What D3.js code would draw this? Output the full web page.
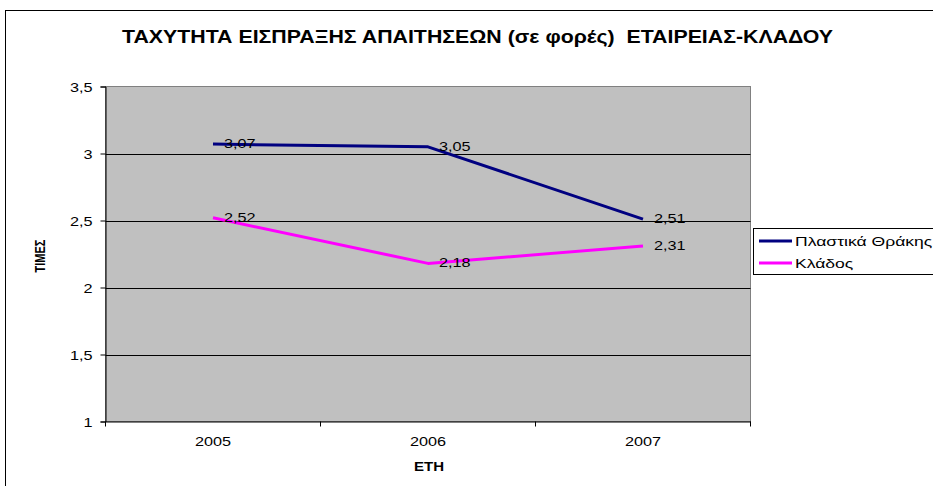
<!DOCTYPE html>
<html><head><meta charset="utf-8">
<script src="https://cdn.jsdelivr.net/npm/d3@7/dist/d3.min.js"></script>
<style>body{margin:0;background:#fff;}svg{display:block;font-family:Arial,"Liberation Sans",sans-serif;}</style>
</head><body>
<script>
const years = ["2005","2006","2007"];
const seriesNames = ["Πλαστικά Θράκης","Κλάδος"];
const thraki = [3.07, 3.05, 2.51];
const klados = [2.52, 2.18, 2.31];
const yTicks = [1, 1.5, 2, 2.5, 3, 3.5];
const colors = ["#000080", "#FF00FF"];

const W = 933, H = 486;
const SX = 1.3; // horizontal stretch seen in the reference text
const svg = d3.select("body").append("svg").attr("width", W).attr("height", H);
svg.append("rect").attr("x", 5.5).attr("y", 10.5).attr("width", 940).attr("height", 490)
  .attr("fill", "#fff").attr("stroke", "#000").attr("stroke-width", 1);

function stext(parent, x, y, str, size, anchor, weight, sx) {
  return parent.append("text")
    .attr("transform", `translate(${x},${y}) scale(${sx || SX},1)`)
    .attr("text-anchor", anchor || "start")
    .attr("font-size", size).attr("font-weight", weight || "normal")
    .attr("fill", "#000").text(str);
}

const L = 105.5, R = 750.5, T = 86.5, B = 421.5;
const x = d3.scaleBand().domain(years).range([L, R]);
const y = d3.scaleLinear().domain([1, 3.5]).range([B, T]);

svg.append("rect").attr("x", L).attr("y", T).attr("width", R - L).attr("height", B - T)
  .attr("fill", "#C0C0C0").attr("stroke", "#808080");

svg.append("g").selectAll("line").data(yTicks.slice(1, -1)).join("line")
  .attr("x1", L).attr("x2", R).attr("y1", d => Math.round(y(d)) + 0.5).attr("y2", d => Math.round(y(d)) + 0.5)
  .attr("stroke", "#000").attr("stroke-width", 1);

// y axis
const yAxis = d3.axisLeft(y).tickValues(yTicks).tickSize(5).tickFormat(d => String(d).replace(".", ","));
const gy = svg.append("g").attr("transform", `translate(${L},0)`).call(yAxis);
gy.selectAll("text").attr("x", null).attr("dy", null)
  .attr("transform", `translate(-13,4.5) scale(${SX},1)`)
  .attr("font-size", 12.5).attr("fill", "#000").attr("font-family", "Arial, 'Liberation Sans', sans-serif");
gy.selectAll("line,path").attr("stroke", "#000");

// x axis
const xAxis = d3.axisBottom(x).tickSize(0);
const gx = svg.append("g").attr("transform", `translate(0,${B})`).call(xAxis);
gx.selectAll("text").attr("y", null).attr("dy", null)
  .attr("transform", `translate(0,24.5) scale(${SX},1)`)
  .attr("font-size", 12.5).attr("fill", "#000").attr("font-family", "Arial, 'Liberation Sans', sans-serif");
gx.select("path").attr("stroke", "#000");
const bounds = years.map(d => x(d)).concat([R]);
gx.append("g").selectAll("line").data(bounds).join("line")
  .attr("x1", d => d).attr("x2", d => d).attr("y1", 0).attr("y2", 5).attr("stroke", "#000");

// lines
const data = [thraki, klados];
const line = d3.line().x((d, i) => x(years[i]) + x.bandwidth() / 2).y(d => y(d));
data.forEach((s, k) => {
  svg.append("path").datum(s).attr("d", line).attr("fill", "none")
    .attr("stroke", colors[k]).attr("stroke-width", 3).attr("stroke-linejoin", "round");
});
const labels = svg.append("g");
data.forEach((s, k) => {
  s.forEach((v, i) => {
    stext(labels, x(years[i]) + x.bandwidth() / 2 + 11, y(v) + 4, v.toFixed(2).replace(".", ","), 12.5);
  });
});

// title
svg.append("text").attr("x", 122).attr("y", 43)
  .attr("font-size", 17.5).attr("font-weight", "bold")
  .style("white-space", "pre")
  .attr("textLength", 711).attr("lengthAdjust", "spacingAndGlyphs")
  .text("ΤΑΧΥΤΗΤΑ ΕΙΣΠΡΑΞΗΣ ΑΠΑΙΤΗΣΕΩΝ (σε φορές)  ΕΤΑΙΡΕΙΑΣ-ΚΛΑΔΟΥ");

// axis titles
svg.append("text").attr("transform", `translate(45,256) scale(${SX},1) rotate(-90)`).attr("text-anchor", "middle")
  .attr("font-size", 11).attr("font-weight", "bold").text("ΤΙΜΕΣ");
stext(svg, 429, 471, "ΕΤΗ", 12, "middle", "bold", 1.25);

// legend
const lg = svg.append("g");
lg.append("rect").attr("x", 753.5).attr("y", 228.5).attr("width", 200).attr("height", 46)
  .attr("fill", "#fff").attr("stroke", "#000");
seriesNames.forEach((n, k) => {
  const yy = 241 + k * 22;
  lg.append("line").attr("x1", 759).attr("x2", 792).attr("y1", yy).attr("y2", yy)
    .attr("stroke", colors[k]).attr("stroke-width", 3);
  stext(lg, 795, yy + 5, n, 13, "start", "normal", 1.35);
});
</script>
</body></html>
